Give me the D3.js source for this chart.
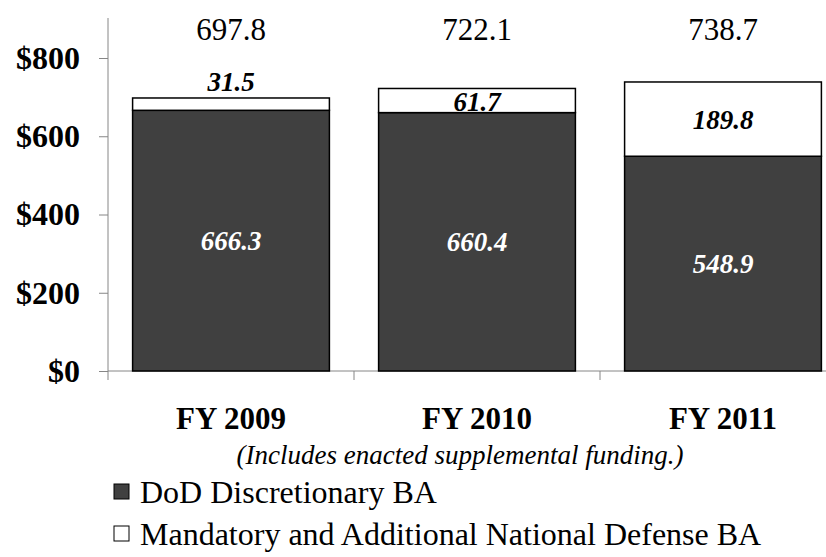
<!DOCTYPE html>
<html>
<head>
<meta charset="utf-8">
<script src="https://cdn.jsdelivr.net/npm/d3@7"></script>
</head>
<body style="margin:0;background:#fff">
<script>
// chart values ($ billions)
const years = ['FY 2009', 'FY 2010', 'FY 2011']
const discretionary = [666.3, 660.4, 548.9]
const mandatory = [31.5, 61.7, 189.8]
const totals = ['697.8', '722.1', '738.7']
const yTicks = [0, 200, 400, 600, 800]
const legendLabels = ['DoD Discretionary BA', 'Mandatory and Additional National Defense BA']

const m = { width: 826, height: 557 }

// set serif font on each text right when it is made
function serif(sel, size, weight, italic) {
    return sel.attr('font-family', 'Liberation Serif')
        .attr('font-size', size)
        .style('font-family', "'Liberation Serif'")
        .style('font-size', size + 'px')
        .style('font-weight', weight || 'normal')
        .style('font-style', italic ? 'italic' : 'normal')
}

const svg = d3.select('body').append('svg')
    .attr('width', m.width)
    .attr('height', m.height)

const x = d3.scaleBand()
    .domain(years)
    .range([108, 846])
    .paddingInner(0.2)
    .paddingOuter(0.1)

const y = d3.scaleLinear()
    .domain([0, 800])
    .range([371, 58])

const yAxis = svg.append('g')
    .attr('transform', 'translate(108,0)')
    .call(d3.axisLeft(y).tickValues(yTicks).tickSize(9).tickFormat(d => '$' + d))
yAxis.attr('font-family', null).attr('font-size', null)
yAxis.select('.domain').attr('stroke', '#868686').attr('d', 'M0,18V' + y(0))
yAxis.selectAll('.tick line').attr('stroke', '#868686')
serif(yAxis.selectAll('.tick text'), 32, 'bold')
    .attr('x', -28)
    .attr('fill', '#000')

const xAxisLine = svg.append('g')
xAxisLine.append('line')
    .attr('x1', 108).attr('x2', 846)
    .attr('y1', y(0)).attr('y2', y(0))
    .attr('stroke', '#868686')
xAxisLine.selectAll('.xt')
    .data(years)
    .enter()
    .append('line')
        .attr('x1', d => x(d) - x.step() * 0.1)
        .attr('x2', d => x(d) - x.step() * 0.1)
        .attr('y1', y(0))
        .attr('y2', y(0) + 9)
        .attr('stroke', '#868686')

const series = [
    { name: 'disc', vals: discretionary, base: years.map(() => 0), fill: '#404040' },
    { name: 'mand', vals: mandatory, base: discretionary, fill: '#ffffff' }
]

series.forEach(function(s) {
    svg.selectAll('.bar-' + s.name)
        .data(years)
        .enter()
        .append('rect')
            .attr('x', d => x(d))
            .attr('width', x.bandwidth())
            .attr('y', (d, i) => y(s.base[i] + s.vals[i]))
            .attr('height', (d, i) => y(s.base[i]) - y(s.base[i] + s.vals[i]))
            .attr('fill', s.fill)
            .attr('stroke', '#000')
            .attr('stroke-width', 1.5)
})

// discretionary labels (white, centred)
serif(svg.selectAll('.lab-disc')
    .data(years)
    .enter()
    .append('text'), 27, 'bold', true)
        .attr('x', d => x(d) + x.bandwidth() / 2)
        .attr('y', (d, i) => y(discretionary[i] / 2))
        .attr('dy', '0.35em')
        .attr('text-anchor', 'middle')
        .attr('fill', '#fff')
        .text((d, i) => discretionary[i].toFixed(1))

// mandatory labels: centred in segment, or above if segment too thin
serif(svg.selectAll('.lab-mand')
    .data(years)
    .enter()
    .append('text'), 27, 'bold', true)
        .attr('x', d => x(d) + x.bandwidth() / 2)
        .attr('y', function(d, i) {
            const top = y(discretionary[i] + mandatory[i])
            const h = y(discretionary[i]) - top
            if (h < 20) return top - 16
            if (h < 40) return top + h / 2 + 1
            return top + h / 2
        })
        .attr('dy', '0.35em')
        .attr('text-anchor', 'middle')
        .attr('fill', '#000')
        .text((d, i) => mandatory[i].toFixed(1))

// totals above
serif(svg.selectAll('.lab-tot')
    .data(years)
    .enter()
    .append('text'), 31)
        .attr('x', d => x(d) + x.bandwidth() / 2)
        .attr('y', 29)
        .attr('dy', '0.35em')
        .attr('text-anchor', 'middle')
        .attr('fill', '#000')
        .text((d, i) => totals[i])

// category labels
serif(svg.selectAll('.lab-cat')
    .data(years)
    .enter()
    .append('text'), 31, 'bold')
        .attr('x', d => x(d) + x.bandwidth() / 2)
        .attr('y', 418)
        .attr('dy', '0.35em')
        .attr('text-anchor', 'middle')
        .attr('fill', '#000')
        .text(d => d)

serif(svg.append('text'), 27, 'normal', true)
    .attr('x', 460)
    .attr('y', 455)
    .attr('dy', '0.35em')
    .attr('text-anchor', 'middle')
    .text('(Includes enacted supplemental funding.)')

// legend
const legend = svg.selectAll('.legend')
    .data(legendLabels)
    .enter()
    .append('g')
        .attr('transform', (d, i) => 'translate(114,' + (492 + i * 42) + ')')

legend.append('rect')
    .attr('x', 0)
    .attr('y', -8)
    .attr('width', 15)
    .attr('height', 15)
    .attr('fill', (d, i) => series[i].fill)
    .attr('stroke', '#000')
    .attr('stroke-width', 1)

serif(legend.append('text'), 32)
    .attr('x', 26)
    .attr('y', 0)
    .attr('dy', '0.35em')
    .text(d => d)
</script>
</body>
</html>
